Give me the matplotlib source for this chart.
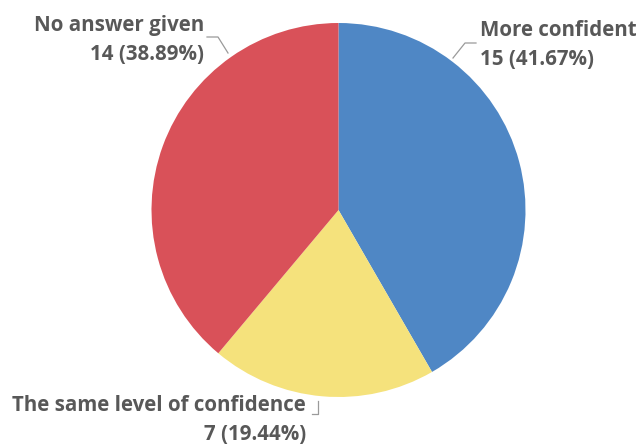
import matplotlib
matplotlib.use("Agg")
import matplotlib.pyplot as plt

categories = ["More confident", "The same level of confidence", "No answer given"]
counts = [15, 7, 14]
colors = ["#4F87C5", "#F5E27C", "#D95159"]

W, H = 640, 446
fig = plt.figure(figsize=(W / 100, H / 100), dpi=100)
ax = fig.add_axes([0, 0, 1, 1])

# pie in pixel space (y measured from bottom)
cx, cy, r = 338.5, H - 210, 187
ax.pie(counts, colors=colors, startangle=90, counterclock=False,
       center=(cx, cy), radius=r, frame=True,
       wedgeprops=dict(linewidth=0))
ax.set_xlim(0, W)
ax.set_ylim(0, H)
ax.set_aspect("equal")
ax.axis("off")

total = sum(counts)
labels = [f"{c}\n{n} ({n / total * 100:.2f}%)" for c, n in zip(categories, counts)]

txt = dict(fontsize=14.8, fontweight="bold", color="#585858",
           family=["Open Sans", "DejaVu Sans"], linespacing=1.5)
line = dict(color="#9a9a9a", lw=0.9)

# More confident
ax.text(480, H - 45, labels[0], ha="left", va="center", **txt)
ax.plot([453, 465, 476], [H - 58, H - 43, H - 43], **line)

# The same level of confidence
ax.text(306, H - 420, labels[1], ha="right", va="center", multialignment="right", **txt)
ax.plot([318, 318, 312], [H - 401, H - 414, H - 414], **line)

# No answer given
ax.text(204, H - 40, labels[2], ha="right", va="center", multialignment="right", **txt)
ax.plot([228, 218, 207], [H - 53, H - 37, H - 37], **line)

fig.savefig("out.png", dpi=100)
